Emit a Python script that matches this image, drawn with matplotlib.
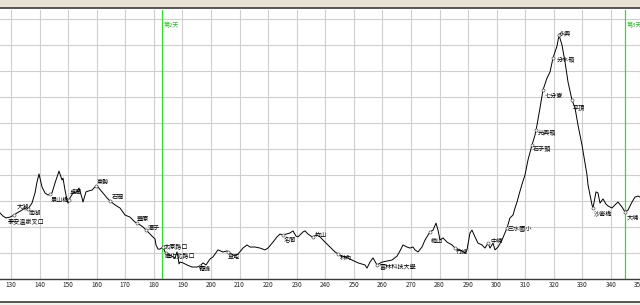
import numpy as np
import matplotlib
matplotlib.use('Agg')
import matplotlib.pyplot as plt
from matplotlib.lines import Line2D
from matplotlib.patches import Rectangle

plt.rcParams['font.family'] = ['Noto Sans CJK TC', 'DejaVu Sans']

# elevation profile: distance (km) and elevation (m)
km = [126.15, 127.2, 128.25, 129.65, 131.05, 132.1, 133.85, 134.9, 135.95, 136.65,
      137.35, 138.4, 139.1, 139.8, 140.85, 141.9, 142.95, 144.35, 145.4, 146.8,
      147.85, 148.2, 148.9, 149.6, 149.95, 150.65, 151.7, 153.1, 153.8, 154.85,
      155.2, 156.25, 156.95, 158.35, 159.4, 160.1, 161.85, 163.6, 164.65, 166.4,
      168.15, 169.9, 171.65, 173.4, 175.15, 176.2, 177.95, 179.35, 180.4, 180.75,
      181.45, 182.15, 183.2, 183.9, 185.65, 187.4, 188.1, 188.45, 188.8, 189.15,
      190.2, 191.6, 193.35, 195.1, 196.15, 197.2, 198.25, 199.65, 200.7, 202.45,
      204.2, 205.6, 206.65, 208.4, 209.45, 211.2, 212.6, 213.65, 215.4, 217.15,
      218.9, 219.95, 221.7, 223.1, 224.15, 225.2, 227.65, 228.7, 229.75, 230.45,
      232.2, 232.9, 233.95, 235.35, 237.1, 238.15, 239.9, 241.65, 243.4, 245.15,
      246.9, 249.35, 251.45, 253.9, 254.6, 255.65, 256.7, 258.1, 259.85, 261.6,
      263.35, 265.1, 266.15, 267.2, 268.6, 269.65, 270.7, 271.4, 272.45, 273.85,
      274.9, 276.65, 277.7, 278.75, 279.45, 280.15, 281.2, 282.6, 284.35, 285.4,
      287.15, 288.9, 289.6, 290.65, 291.35, 292.4, 293.45, 294.85, 295.9, 296.95,
      297.65, 298.7, 299.4, 300.45, 301.85, 302.9, 303.6, 304.65, 305.7, 306.4,
      307.1, 308.15, 309.2, 309.9, 310.95, 312.35, 313.4, 314.1, 315.15, 316.2,
      317.6, 318.65, 319.7, 321.1, 321.8, 322.85, 323.9, 324.95, 326.35, 327.4,
      328.45, 329.85, 330.9, 331.6, 331.95, 332.65, 333.35, 333.7, 334.75, 335.45,
      336.15, 337.2, 338.25, 338.95, 340.35, 341.4, 342.45, 343.85, 344.9, 345.95,
      347.35, 348.4, 349.45, 350.15]
elev = [254, 242, 235, 238, 246, 254, 265, 273, 269, 281,
        292, 331, 373, 404, 354, 331, 323, 331, 369, 415,
        381, 388, 342, 304, 292, 312, 331, 335, 350, 312,
        296, 335, 338, 342, 354, 358, 335, 312, 300, 285,
        273, 246, 238, 219, 208, 200, 181, 165, 154, 131,
        115, 115, 123, 104, 92, 81, 104, 85, 58, 65,
        62, 54, 46, 46, 50, 62, 54, 77, 85, 112,
        104, 108, 100, 88, 96, 119, 131, 123, 123, 119,
        112, 119, 142, 162, 173, 169, 177, 185, 165, 162,
        181, 185, 173, 162, 169, 162, 142, 123, 104, 92,
        85, 73, 62, 54, 42, 65, 81, 54, 65, 69,
        73, 88, 108, 131, 123, 119, 123, 112, 104, 123,
        150, 181, 188, 215, 188, 150, 158, 142, 131, 119,
        112, 100, 112, 177, 188, 162, 138, 131, 119, 138,
        119, 138, 112, 123, 150, 177, 196, 235, 246, 273,
        296, 338, 377, 400, 458, 515, 554, 592, 658, 727,
        773, 796, 850, 896, 938, 900, 835, 758, 688, 658,
        592, 515, 446, 400, 362, 323, 285, 273, 335, 331,
        292, 308, 288, 281, 273, 285, 296, 277, 258, 265,
        296, 315, 319, 315]

# waypoints along the route
stop_names = ['泰安溫泉叉口', '大湖', '南湖', '景山橋', '卓蘭', '東勢', '石岡', '豐原', '潭子',
              '太原路口', '進化北路口', '霧峰', '草屯', '名間', '竹山', '林內', '雲林科技大學',
              '梅山', '竹崎', '中埔', '三水國小', '石子頭', '光興嶺', '七分寮', '分水嶺',
              '永興', '平頂', '沙崙橋', '大埔']
stop_km = [131.05, 134.9, 135.95, 143.65, 150.3, 159.75, 164.65, 174.1, 177.25,
           183.2, 184.25, 196.15, 205.95, 225.2, 235.7, 244.45, 258.1,
           276.65, 285.4, 297.0, 303.6, 312.35, 313.75, 316.2, 319.7,
           321.8, 326.35, 333.7, 344.9]
# label offsets in pixels
label_dx = [-6, -8, 1, 1, 1, 1, 2, 0, 2, 1, -1, -1, 0, 1, 2, 2, 3,
            1, 1, 2, 1, 1, 2, 2, 4, 0, 1, 1, 2]
label_dy = [-7, 1, -4, -6, 8, 4, 4, 4, 2, 0, -3, -3, -5, -5, 2, -4, -2,
            -9, -4, 2, 0, -3, -2, -6, -1, 2, -7, -5, -6]

day_km = [183, 345]
day_names = ['第2天', '第3天']

fig = plt.figure(figsize=(6.4, 3.05), dpi=100)
fig.patch.set_facecolor('white')

# top strip and frame lines
fig.add_artist(Rectangle((0, 297 / 305), 1, 8 / 305, transform=fig.transFigure,
                         facecolor='#e6e1d3', edgecolor='none'))
fig.add_artist(Line2D([0, 1], [297 / 305, 297 / 305], transform=fig.transFigure,
                      color='#3a3a3a', lw=1.2))
fig.add_artist(Line2D([0, 1], [3 / 305, 3 / 305], transform=fig.transFigure,
                      color='#3a3a3a', lw=1.2))
fig.add_artist(Rectangle((0, 0), 1, 3 / 305, transform=fig.transFigure,
                         facecolor='#eef2ea', edgecolor='none'))

ax = fig.add_axes([0, 26 / 305, 1, 269 / 305])
ax.set_xlim(126.15, 350.15)
ax.set_ylim(0, 1034.6)

ax.set_xticks(np.arange(130, 351, 10))
ax.set_yticks(np.arange(0, 1001, 100))
ax.set_yticklabels([])
ax.tick_params(axis='x', length=0, pad=1.5, labelsize=4.6, labelcolor='#222222')
ax.tick_params(axis='y', length=0)
ax.grid(True, color='#cfcfcf', lw=0.8)
ax.set_axisbelow(True)
for s in ['top', 'left', 'right']:
    ax.spines[s].set_visible(False)
ax.spines['bottom'].set_color('#3a3a3a')
ax.spines['bottom'].set_linewidth(1.0)

# day separators
for d, name in zip(day_km, day_names):
    ax.axvline(d, color='#33dd33', lw=0.9)
    ax.annotate(name, xy=(d, 0.944), xycoords=ax.get_xaxis_transform(),
                xytext=(1, 0), textcoords='offset pixels', fontsize=4.3,
                color='#22bb22', ha='left', va='center')

ax.plot(km, elev, color='black', lw=0.7)

stop_elev = np.interp(stop_km, km, elev)
ax.plot(stop_km, stop_elev, 'o', ms=2.2, mfc='white', mec='#555555', mew=0.5, zorder=3)
for name, x, y, dx, dy in zip(stop_names, stop_km, stop_elev, label_dx, label_dy):
    ax.annotate(name, xy=(x, y), xytext=(dx, dy), textcoords='offset pixels',
                fontsize=4.4, color='black', ha='left', va='center')

plt.savefig('out.png', dpi=100)
plt.close()
